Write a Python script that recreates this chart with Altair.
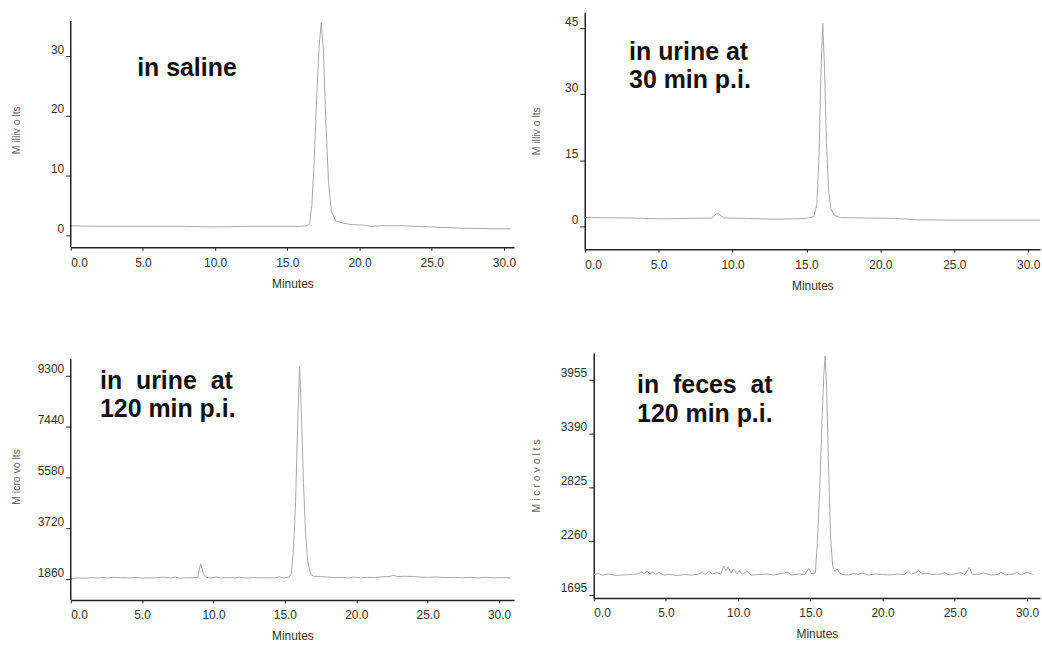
import altair as alt
import pandas as pd

# ---------------- data ----------------
# Panel 1: in saline (Millivolts)
t_saline = [0.0, 2.0, 5.0, 8.0, 10.0, 12.0, 14.0, 16.0, 16.35, 16.55, 16.7, 16.85, 17.05, 17.2,
            17.35, 17.5, 17.65, 17.85, 18.05, 18.35, 18.9, 19.5, 20.3, 20.8, 21.5, 23.0, 25.0,
            27.0, 29.0, 30.5]
v_saline = [1.6, 1.5, 1.5, 1.5, 1.4, 1.5, 1.5, 1.5, 1.6, 2.0, 5.0, 12.0, 24.0, 31.5,
            35.6, 31.0, 20.0, 9.0, 4.0, 2.4, 2.0, 1.8, 1.7, 1.5, 1.6, 1.6, 1.4,
            1.2, 1.1, 1.1]

# Panel 2: in urine at 30 min p.i. (Millivolts)
t_urine30 = [0.0, 3.0, 5.0, 7.0, 8.6, 8.9, 9.1, 9.4, 11.0, 13.0, 15.0, 15.5, 15.7, 15.85,
             15.97, 16.1, 16.22, 16.35, 16.5, 16.65, 16.9, 17.3, 19.0, 21.0, 22.5, 25.0,
             28.0, 30.8]
v_urine30 = [2.0, 1.9, 1.7, 1.8, 1.9, 2.9, 2.8, 1.9, 1.8, 1.6, 1.8, 2.2, 5.0, 16.0,
             34.0, 46.0, 36.0, 19.0, 8.0, 4.0, 2.5, 2.0, 1.9, 1.8, 1.5, 1.4,
             1.4, 1.4]

# Panel 3: in urine at 120 min p.i. (Microvolts)
t_urine120 = [0.0, 0.5, 1.0, 1.5, 2.0, 2.2, 2.5, 3.0, 3.5, 4.0, 4.5, 5.0, 5.5, 6.0, 6.5, 7.0,
              7.3, 7.6, 8.0, 8.5, 8.9, 9.1, 9.3, 9.5, 9.8, 10.2, 10.5, 11.0, 11.5, 11.8, 12.3,
              12.8, 13.3, 13.8, 14.3, 14.6, 14.9, 15.3, 15.45, 15.6, 15.75, 15.9, 16.03, 16.15,
              16.3, 16.45, 16.6, 16.8, 17.0, 17.5, 18.0, 18.5, 19.0, 19.4, 19.8, 20.3, 20.8,
              21.3, 21.8, 22.3, 22.6, 22.9, 23.4, 24.0, 24.5, 25.0, 25.6, 26.2, 26.8, 27.4,
              28.0, 28.6, 29.0, 29.5, 30.0, 30.8]
v_urine120 = [1880, 1900, 1890, 1910, 1895, 1930, 1900, 1920, 1905, 1900, 1915, 1895, 1900,
              1905, 1925, 1900, 1930, 1895, 1900, 1905, 1920, 2420, 2050, 1920, 1900, 1930,
              1900, 1915, 1900, 1925, 1895, 1910, 1900, 1905, 1900, 1940, 1900, 1930, 2050,
              2900, 4700, 7600, 9630, 8000, 5400, 3500, 2500, 2050, 1960, 1950, 1930, 1910,
              1920, 1900, 1930, 1905, 1920, 1915, 1940, 1950, 1990, 1950, 1960, 1950, 1930,
              1920, 1935, 1910, 1920, 1905, 1920, 1900, 1925, 1905, 1910, 1900]

# Panel 4: in feces at 120 min p.i. (Microvolts)
t_feces = [0.0, 0.3, 0.6, 1.0, 1.5, 2.0, 2.5, 3.0, 3.3, 3.5, 3.7, 3.9, 4.1, 4.3, 4.5, 4.8, 5.2,
           5.8, 6.3, 6.8, 7.3, 7.5, 7.7, 8.0, 8.2, 8.5, 8.8, 9.0, 9.15, 9.3, 9.5, 9.7, 9.9,
           10.1, 10.3, 10.6, 10.9, 11.5, 12.0, 12.5, 13.0, 13.4, 13.7, 14.2, 14.6, 14.9, 15.1,
           15.35, 15.5, 15.65, 15.8, 15.93, 16.02, 16.12, 16.25, 16.4, 16.55, 16.7, 16.85,
           17.0, 17.2, 17.6, 18.0, 18.3, 18.6, 19.0, 19.5, 20.0, 20.5, 21.0, 21.5, 21.8, 22.0,
           22.3, 22.5, 22.7, 23.0, 23.5, 24.0, 24.3, 24.6, 25.0, 25.4, 25.7, 26.0, 26.2, 26.6,
           27.0, 27.5, 28.0, 28.2, 28.5, 29.0, 29.3, 29.6, 30.0, 30.4]
v_feces = [1910, 1920, 1905, 1915, 1900, 1905, 1910, 1915, 1935, 1920, 1945, 1915, 1940, 1910,
           1935, 1905, 1910, 1900, 1910, 1905, 1915, 1940, 1910, 1945, 1915, 1930, 1915, 2000,
           1950, 1990, 1925, 1970, 1915, 1950, 1910, 1945, 1905, 1910, 1915, 1905, 1920, 1935,
           1905, 1915, 1910, 1975, 1915, 1930, 2300, 2800, 3500, 4000, 4206, 3900, 3100, 2300,
           1990, 1940, 1970, 1930, 1910, 1905, 1920, 1910, 1925, 1905, 1915, 1910, 1905, 1915,
           1910, 1945, 1915, 1930, 1950, 1915, 1925, 1910, 1915, 1930, 1905, 1915, 1930, 1910,
           1985, 1915, 1910, 1925, 1905, 1910, 1935, 1905, 1915, 1930, 1905, 1935, 1910]

x_ticks = [0, 5, 10, 15, 20, 25, 30]
y_ticks_1 = [0, 10, 20, 30]
y_ticks_2 = [0, 15, 30, 45]
y_ticks_3 = [1860, 3720, 5580, 7440, 9300]
y_ticks_4 = [1695, 2260, 2825, 3390, 3955]

# vertical extent (in data units) of the drawn y-axis line of each panel
axis_span_1 = [-2.0, 35.85]
axis_span_3 = [1094, 9920]

# annotation lines (one entry per text line) with their anchor in data units
labels_1 = ["in saline"]
labels_2 = ["in urine at", "30 min p.i."]
labels_3 = ["in\u00a0 urine\u00a0 at", "120 min p.i."]
labels_4 = ["in\u00a0 feces\u00a0 at", "120 min p.i."]
label_x_1, label_y_1 = [4.6], [26.7]
label_x_2, label_y_2 = [3.0, 3.0], [37.8, 31.4]
label_x_3, label_y_3 = [2.05, 2.05], [8826, 7804]
label_x_4, label_y_4 = [3.0, 3.0], [3818, 3515]

FONT = "Liberation Sans"
AXIS_COLOR = "#222"


def panel(t, v, xdom, ydom, yticks, ytitle, extent, w, h, labs, lxs, lys, axis_span=None):
    df = pd.DataFrame({"t": t, "v": v})
    x = alt.X("t:Q", scale=alt.Scale(domain=xdom, nice=False, zero=False),
              axis=alt.Axis(values=x_ticks, format=".1f", title="Minutes",
                            tickSize=3, labelPadding=7, titlePadding=10))
    yaxis_kw = dict(values=yticks, format="d", title=ytitle, tickSize=5,
                    labelPadding=2, labelBaseline="bottom",
                    minExtent=extent, maxExtent=extent, titlePadding=4,
                    titleFontSize=10.5, titleColor="#666")
    if axis_span is not None:
        yaxis_kw["domain"] = False
    y = alt.Y("v:Q", scale=alt.Scale(domain=ydom, nice=False, zero=False),
              axis=alt.Axis(**yaxis_kw))
    line = alt.Chart(df).mark_line(color="#a8a8a8", strokeWidth=1).encode(x=x, y=y)
    tdf = pd.DataFrame({"t": lxs, "v": lys, "lab": labs})
    txt = alt.Chart(tdf).mark_text(align="left", baseline="alphabetic", fontSize=25,
                                   fontWeight="bold", font="Liberation Sans",
                                   color="#111").encode(
        x=alt.X("t:Q"), y=alt.Y("v:Q"), text="lab:N")
    layers = [line, txt]
    if axis_span is not None:
        adf = pd.DataFrame({"t": [xdom[0]], "v": [axis_span[0]], "v2": [axis_span[1]]})
        ax_line = alt.Chart(adf).mark_rule(color=AXIS_COLOR, strokeWidth=1.5).encode(
            x=alt.X("t:Q"), y=alt.Y("v:Q"), y2="v2:Q")
        layers.append(ax_line)
    return alt.layer(*layers).properties(width=w, height=h)


p1 = panel(t_saline, v_saline, [0, 30.7], [-2.0, 37.33], y_ticks_1, "M illiv o lts",
           45, 445, 236, labels_1, label_x_1, label_y_1, axis_span=axis_span_1)
p2 = panel(t_urine30, v_urine30, [0, 30.8], [-5.2, 48.6], y_ticks_2, "M illiv o lts",
           39, 457, 238, labels_2, label_x_2, label_y_2)
p3 = panel(t_urine120, v_urine120, [0, 31.05], [1094, 10139], y_ticks_3, "M icro vo lts",
           45, 445, 248, labels_3, label_x_3, label_y_3, axis_span=axis_span_3)
p4 = panel(t_feces, v_feces, [0, 30.9], [1664, 4237], y_ticks_4, "M i c r o v o l t s",
           48, 448, 246, labels_4, label_x_4, label_y_4)

chart = alt.concat(p1, p2, p3, p4, columns=2, align="none",
                   spacing={"row": 62, "column": 16}).properties(
    padding={"left": 12, "top": 11, "right": 0, "bottom": 0}
).configure_view(stroke=None).configure_axis(
    grid=False, domainColor=AXIS_COLOR, domainWidth=1.5, tickColor=AXIS_COLOR, tickWidth=1,
    labelFont=FONT, labelFontSize=12, labelColor="#333", titleFont=FONT,
    titleFontSize=12, titleFontWeight="normal", titleColor="#333"
)

chart.save("out.html", embed_options={"renderer": "svg", "actions": False})
